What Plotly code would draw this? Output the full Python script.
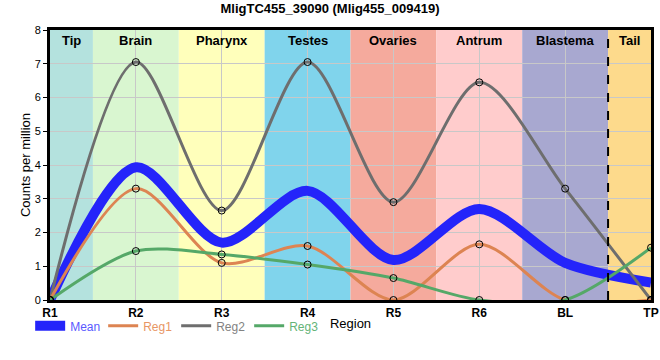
import plotly.graph_objects as go

positions = ["R1", "R2", "R3", "R4", "R5", "R6", "BL", "TP"]
reg1 = [0, 3.3, 1.1, 1.6, 0, 1.65, 0, 0]
reg2 = [0, 7.05, 2.65, 7.05, 2.9, 6.45, 3.3, 0]
reg3 = [0, 1.45, 1.35, 1.05, 0.65, 0, 0, 1.55]
mean = [(a + b + c) / 3 for a, b, c in zip(reg1, reg2, reg3)]

regions = ["Tip", "Brain", "Pharynx", "Testes", "Ovaries", "Antrum", "Blastema", "Tail"]
region_bounds = [(0, 0.5), (0.5, 1.5), (1.5, 2.5), (2.5, 3.5), (3.5, 4.5), (4.5, 5.5), (5.5, 6.5), (6.5, 7)]
region_colors = ["rgb(180,226,222)", "rgb(217,246,208)", "rgb(255,255,187)", "rgb(128,212,236)",
                 "rgb(245,170,157)", "rgb(255,204,204)", "rgb(168,168,208)", "rgb(253,218,140)"]

xs = list(range(len(positions)))
SM = 0.85

fig = go.Figure()

series = [
    ("Reg2", reg2, "rgb(110,110,110)"),
    ("Reg1", reg1, "rgb(221,132,82)"),
    ("Reg3", reg3, "rgb(85,168,104)"),
]

fig.add_trace(go.Scatter(
    x=xs, y=mean, mode="lines", name='<span style="color:rgb(90,90,255)">Mean</span>',
    line=dict(color="rgb(36,36,250)", width=10, shape="spline", smoothing=SM),
    legendrank=1,
))
order = {"Reg1": 2, "Reg2": 3, "Reg3": 4}
legend_text = {"Reg1": "rgb(232,150,100)", "Reg2": "rgb(130,130,130)", "Reg3": "rgb(100,180,120)"}
for name, vals, col in series:
    fig.add_trace(go.Scatter(
        x=xs, y=vals, mode="lines", name=f'<span style="color:{legend_text[name]}">{name}</span>',
        line=dict(color=col, width=3, shape="spline", smoothing=SM),
        legendrank=order[name],
    ))
for name, vals, col in series:
    fig.add_trace(go.Scatter(
        x=xs, y=vals, mode="markers", showlegend=False,
        marker=dict(symbol="circle-open", color="black", size=7, line=dict(width=1)),
    ))

shapes = []
for (x0, x1), c in zip(region_bounds, region_colors):
    shapes.append(dict(type="rect", xref="x", yref="y", x0=x0, x1=x1, y0=0, y1=8,
                       fillcolor=c, line=dict(width=0), layer="below"))
shapes.append(dict(type="line", xref="x", yref="y", x0=6.5, x1=6.5, y0=0, y1=8,
                   line=dict(color="black", width=2, dash="dash"), layer="above"))

annotations = []
for (x0, x1), r in zip(region_bounds, regions):
    annotations.append(dict(x=(x0 + x1) / 2, y=8, xref="x", yref="y", text=f"<b>{r}</b>",
                            showarrow=False, yanchor="top", yshift=-1,
                            font=dict(size=13, color="black", family="Liberation Sans, Arial")))

fig.update_layout(
    width=660, height=360,
    margin=dict(l=50, r=9, t=30, b=60, autoexpand=False),
    paper_bgcolor="white", plot_bgcolor="white",
    title=dict(text="<b>MligTC455_39090 (Mlig455_009419)</b>", x=0.5, xanchor="center",
               y=0.99, yanchor="top", automargin=False,
               font=dict(size=13, color="black", family="Liberation Sans, Arial")),
    font=dict(family="Liberation Sans, Arial", color="black", size=12),
    shapes=shapes, annotations=annotations,
    showlegend=True,
    legend=dict(orientation="h", x=-0.033, xanchor="left", y=-0.042, yanchor="top",
                font=dict(size=12), bgcolor="rgba(0,0,0,0)", entrywidth=28, tracegroupgap=0),
)
fig.update_xaxes(range=[0, 7], tickmode="array", tickvals=xs, ticktext=[f"<b>{p}</b>" for p in positions],
                 showgrid=True, gridcolor="rgb(200,200,200)", gridwidth=1, automargin=False,
                 showline=True, linecolor="black", linewidth=3, mirror=True,
                 ticks="", tickfont=dict(size=12),
                 title=dict(text="Region", font=dict(size=13), standoff=0), zeroline=False)
fig.update_yaxes(range=[0, 8], dtick=1, showgrid=True, gridcolor="rgb(200,200,200)", gridwidth=1,
                 automargin=False,
                 showline=True, linecolor="black", linewidth=3, mirror=True,
                 ticks="outside", ticklen=4, tickcolor="black", tickfont=dict(size=11),
                 title=dict(text="Counts per million", font=dict(size=13), standoff=2), zeroline=False)

fig.write_html("out.html", post_script="document.body.style.margin='0px';",
               config={"displayModeBar": False})
